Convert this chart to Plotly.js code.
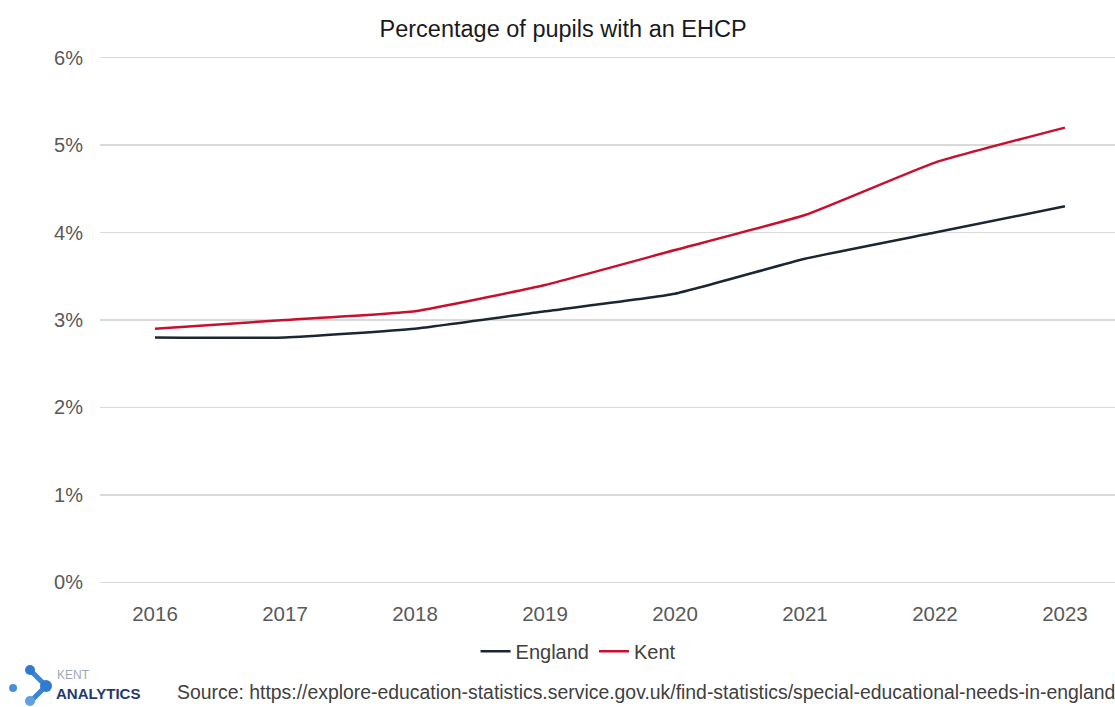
<!DOCTYPE html>
<html><head><meta charset="utf-8">
<script src="https://cdn.plot.ly/plotly-3.0.1.min.js"></script>
<style>html,body{margin:0;padding:0;background:#fff}#chart{width:1115px;height:707px}</style>
</head><body><div id="chart"></div>
<script>
const years = [2016, 2017, 2018, 2019, 2020, 2021, 2022, 2023];
const england = [2.8, 2.8, 2.9, 3.1, 3.3, 3.7, 4.0, 4.3];
const kent = [2.9, 3.0, 3.1, 3.4, 3.8, 4.2, 4.8, 5.2];
const yTicks = [0, 1, 2, 3, 4, 5, 6];
const yTickLabels = ['0%', '1%', '2%', '3%', '4%', '5%', '6%'];

const font = 'Liberation Sans, Arial, sans-serif';
const traces = [
  {x: years, y: england, name: 'England', type: 'scatter', mode: 'lines',
   line: {color: '#1b2633', width: 2.5, shape: 'spline', smoothing: 0.4}},
  {x: years, y: kent, name: 'Kent', type: 'scatter', mode: 'lines',
   line: {color: '#c8102e', width: 2.5, shape: 'spline', smoothing: 0.4}}
];
const AX = -0.0985, AY = -0.2302; // logo pixel anchor (paper coords of page pixel 0,707)
function dot(x0, x1, y0, y1, c) {
  return {type: 'circle', xref: 'paper', yref: 'paper', xsizemode: 'pixel', ysizemode: 'pixel',
          xanchor: AX, yanchor: AY, x0: x0, x1: x1, y0: y0, y1: y1, fillcolor: c, line: {width: 0}};
}
function seg(x0, y0, x1, y1) {
  return {type: 'line', xref: 'paper', yref: 'paper', xsizemode: 'pixel', ysizemode: 'pixel',
          xanchor: AX, yanchor: AY, x0: x0, y0: y0, x1: x1, y1: y1, line: {color: '#3a85d6', width: 5}};
}
const layout = {
  width: 1115, height: 707,
  margin: {l: 100, r: 0, t: 55, b: 122},
  paper_bgcolor: '#fff', plot_bgcolor: '#fff',
  font: {family: font, color: '#595959', size: 20},
  title: {text: 'Percentage of pupils with an EHCP', font: {family: font, size: 23.5, color: '#1a1a1a'},
          x: 0.505, xanchor: 'center', y: 0.960, yanchor: 'middle'},
  xaxis: {range: [2015.577, 2023.385], tickvals: years, ticktext: years.map(String),
          showgrid: false, zeroline: false, showline: false, ticks: '', ticklabelstandoff: 14,
          tickfont: {size: 20.5, color: '#595959'}},
  yaxis: {range: [-0.03, 6.03], tickvals: yTicks, ticktext: yTickLabels,
          showgrid: true, gridcolor: '#d9d9d9', gridwidth: 1.5, zeroline: false, showline: false,
          ticks: '', ticklabelstandoff: 16, tickfont: {size: 20, color: '#595959'}},
  showlegend: true,
  legend: {orientation: 'h', x: 0.471, xanchor: 'center', y: -0.088, yanchor: 'top',
           font: {size: 20, color: '#404040'}, traceorder: 'normal'},
  shapes: [
    seg(30, 37, 46, 21), seg(46, 21, 30, 5),
    dot(9, 17, 15, 23, '#4a8fd8'),
    dot(25, 35, 32, 42, '#2f7bd0'),
    dot(40, 52, 15, 27, '#2f7bd0'),
    dot(25, 35, 1, 11, '#5fa0e0')
  ],
  annotations: [
    {text: 'KENT', xref: 'paper', yref: 'paper', x: -0.0443, y: -0.1698, xanchor: 'left', yanchor: 'middle', showarrow: false,
     font: {family: font, size: 12, color: '#a0a8b2'}},
    {text: '<b>ANALYTICS</b>', xref: 'paper', yref: 'paper', x: -0.0453, y: -0.2038, xanchor: 'left', yanchor: 'middle', showarrow: false,
     font: {family: font, size: 15, color: '#1f3a6b'}},
    {text: 'Source: https://explore-education-statistics.service.gov.uk/find-statistics/special-educational-needs-in-england',
     xref: 'paper', yref: 'paper', x: 0.0739, y: -0.2019, xanchor: 'left', yanchor: 'middle', showarrow: false,
     font: {family: font, size: 19.4, color: '#404040'}}
  ]
};
Plotly.newPlot('chart', traces, layout, {displayModeBar: false, staticPlot: true});
</script></body></html>
